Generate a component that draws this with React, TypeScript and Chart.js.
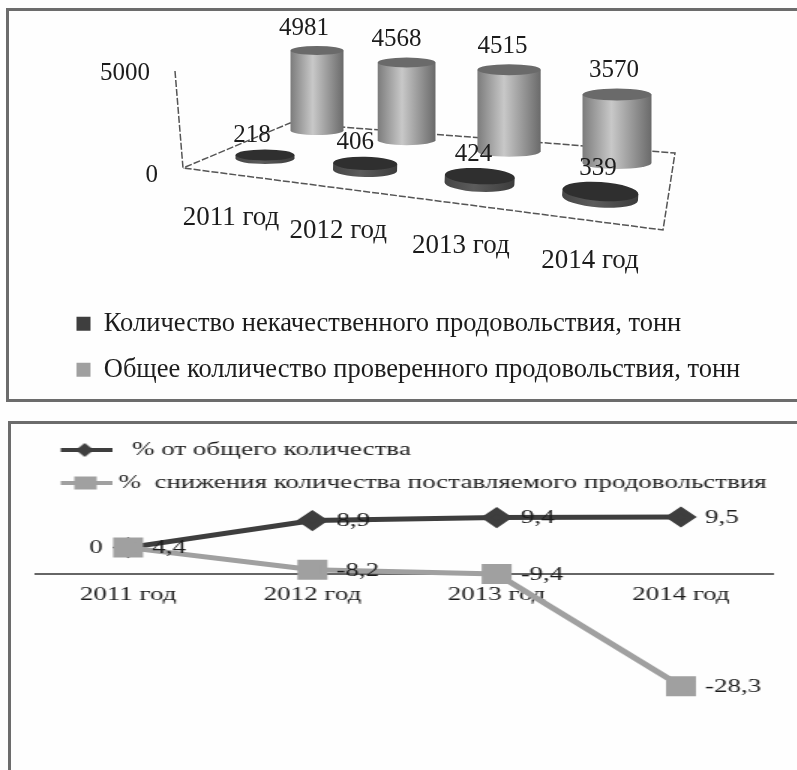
import React, { useEffect, useRef } from "react";
import { Chart, registerables } from "chart.js";

Chart.register(...registerables);

const categories = ["2011 год", "2012 год", "2013 год", "2014 год"];

// Upper chart
const poorQualityTons = [218, 406, 424, 339];
const inspectedTons = [4981, 4568, 4515, 3570];
const poorQualityName = "Количество некачественного продовольствия, тонн";
const inspectedName = "Общее колличество проверенного продовольствия, тонн";

// Lower chart
const shareOfTotal = [4.4, 8.9, 9.4, 9.5];
const shareLabels = ["4,4", "8,9", "9,4", "9,5"];
// Heights as the points stand in the picture, which do not follow the printed numbers.
const declineLevels = [4.4, 0.7, 0, -18.7];
const declineLabels = ["0", "-8,2", "-9,4", "-28,3"];
const shareName = "  % от общего количества";
const declineName = "%  снижения количества поставляемого продовольствия";

const SERIF = "'Liberation Serif', serif";
const INK = "#1c1c1c";
const DARK = "#3e3e3e";
const GREY = "#a0a0a0";

type Row = { x: number[]; y: number[]; w: number[]; ry: number[]; tilt: number[] };
const backRow: Row = { x: [317, 617], y: [130.5, 163], w: [53, 69], ry: [4.5, 6], tilt: [0, 0] };
const frontRow: Row = { x: [265, 600], y: [158.5, 198], w: [59, 76], ry: [5.5, 9.5], tilt: [0, 0.07] };
const tickRow = { x: [231, 590], y: [218, 261] };

const lerp = (r: number[], t: number) => r[0] + (r[1] - r[0]) * t;
const warp = (t: number) => Math.pow(t, 1.1);

function cylinder(ctx: any, cx: number, by: number, w: number, ry: number, h: number, tilt: number, tones: string[], cap: string) {
  const rx = w / 2;
  ctx.save();
  ctx.translate(cx, by);
  ctx.rotate(tilt);
  const g = ctx.createLinearGradient(-rx, 0, rx, 0);
  g.addColorStop(0, tones[0]);
  g.addColorStop(0.42, tones[1]);
  g.addColorStop(1, tones[2]);
  ctx.fillStyle = g;
  ctx.beginPath();
  ctx.moveTo(-rx, -h);
  ctx.lineTo(-rx, 0);
  ctx.ellipse(0, 0, rx, ry, 0, Math.PI, 0, true);
  ctx.lineTo(rx, -h);
  ctx.closePath();
  ctx.fill();
  ctx.fillStyle = cap;
  ctx.beginPath();
  ctx.ellipse(0, -h, rx, ry, 0, 0, Math.PI * 2);
  ctx.fill();
  ctx.restore();
}

const scenePlugin = {
  id: "scene",
  beforeDatasetDraw() {
    return false;
  },
  beforeDatasetsDraw(chart: any) {
    const { ctx } = chart;
    ctx.save();
    ctx.strokeStyle = "#555555";
    ctx.lineWidth = 1.5;
    ctx.setLineDash([7, 2]);
    ctx.beginPath();
    ctx.moveTo(175, 71);
    ctx.lineTo(183, 168);
    ctx.lineTo(663, 230);
    ctx.lineTo(675, 153);
    ctx.lineTo(290, 123);
    ctx.lineTo(183, 168);
    ctx.stroke();
    ctx.restore();
  },
  afterDatasetsDraw(chart: any) {
    const { ctx } = chart;
    const xs = chart.scales.x;
    const ys = chart.scales.y;
    const n = categories.length;
    const tOf = (i: number) => warp((xs.getPixelForValue(i) - xs.getPixelForValue(0)) / (xs.getPixelForValue(n - 1) - xs.getPixelForValue(0)));
    const rise = (v: number, t: number) => (ys.getPixelForValue(0) - ys.getPixelForValue(v)) * (0.82 + 0.16 * t);

    inspectedTons.forEach((v, i) => {
      const t = tOf(i);
      cylinder(ctx, lerp(backRow.x, t), lerp(backRow.y, t), lerp(backRow.w, t), lerp(backRow.ry, t), rise(v, t), 0, ["#7c7c7c", "#c8c8c8", "#6a6a6a"], "#6a6a6a");
    });
    poorQualityTons.forEach((v, i) => {
      const t = tOf(i);
      cylinder(ctx, lerp(frontRow.x, t), lerp(frontRow.y, t), lerp(frontRow.w, t), lerp(frontRow.ry, t), rise(v, t), lerp(frontRow.tilt, t), ["#454545", "#5c5c5c", "#3c3c3c"], "#2f2f2f");
    });

    ctx.save();
    ctx.fillStyle = INK;
    ctx.font = `25px ${SERIF}`;
    ctx.textAlign = "center";
    ctx.textBaseline = "middle";
    inspectedTons.forEach((v, i) => {
      const t = tOf(i);
      const top = lerp(backRow.y, t) - rise(v, t) - lerp(backRow.ry, t);
      ctx.fillText(String(v), lerp(backRow.x, t) - 13 + 10 * t, top - 18);
    });
    poorQualityTons.forEach((v, i) => {
      const t = tOf(i);
      const top = lerp(frontRow.y, t) - rise(v, t) - lerp(frontRow.ry, t);
      ctx.fillText(String(v), lerp(frontRow.x, t) - 13 + 11 * t, top - 14);
    });
    ctx.textAlign = "right";
    ys.ticks.forEach((tick: any) => {
      const f = tick.value / ys.max;
      ctx.fillText(String(tick.value), 158 - 8 * f, ys.getPixelForValue(tick.value) + 2 + 4 * (1 - f));
    });
    ctx.textAlign = "center";
    ctx.font = `27px ${SERIF}`;
    categories.forEach((c, i) => {
      const t = tOf(i);
      ctx.fillText(c, lerp(tickRow.x, t), lerp(tickRow.y, t));
    });
    ctx.restore();
  },
};

function lineSample(color: string, pointStyle: string) {
  const c = document.createElement("canvas");
  c.width = 40;
  c.height = 16;
  const g = c.getContext("2d") as CanvasRenderingContext2D;
  g.fillStyle = color;
  g.fillRect(6, 6, 34, 4);
  if (pointStyle === "rect") {
    g.fillRect(15, 1.5, 15, 13);
  } else {
    g.beginPath();
    g.moveTo(22, 1);
    g.lineTo(28, 8);
    g.lineTo(22, 15);
    g.lineTo(16, 8);
    g.closePath();
    g.fill();
  }
  return c;
}

const valueLabelPlugin = {
  id: "valueLabels",
  afterDatasetsDraw(chart: any) {
    const { ctx } = chart;
    ctx.save();
    ctx.fillStyle = INK;
    ctx.font = `18px ${SERIF}`;
    ctx.textBaseline = "middle";
    [shareLabels, declineLabels].forEach((labels, d) => {
      chart.getDatasetMeta(d).data.forEach((pt: any, i: number) => {
        const before = d === 1 && i === 0;
        ctx.textAlign = before ? "right" : "left";
        ctx.fillText(labels[i], pt.x + (before ? -17 : 16), pt.y + 1);
      });
    });
    ctx.restore();
  },
};

export default function App() {
  const topRef = useRef<HTMLCanvasElement>(null);
  const lowRef = useRef<HTMLCanvasElement>(null);

  useEffect(() => {
    document.body.style.margin = "0";
    document.body.style.overflow = "hidden";
    const top = new Chart(topRef.current as HTMLCanvasElement, {
      type: "bar",
      data: {
        labels: categories,
        datasets: [
          { label: poorQualityName, data: poorQualityTons, backgroundColor: DARK },
          { label: inspectedName, data: inspectedTons, backgroundColor: GREY },
        ],
      },
      options: {
        animation: false,
        responsive: false,
        layout: { padding: { left: 57, top: 71, right: 0, bottom: 0 } },
        scales: {
          x: {
            grid: { display: false },
            border: { display: false },
            ticks: { display: false },
            afterFit: (s: any) => {
              s.height = 122;
            },
          },
          y: {
            min: 0,
            max: 5000,
            grid: { display: false },
            border: { display: false },
            ticks: { display: false, stepSize: 5000 },
          },
        },
        plugins: {
          tooltip: { enabled: false },
          legend: {
            position: "bottom",
            align: "start",
            labels: { boxWidth: 14, boxHeight: 14, padding: 19.5, color: INK, font: { family: SERIF, size: 26.5 } },
          },
        },
      },
      plugins: [scenePlugin],
    } as any);

    const shareSample = lineSample(DARK, "rectRot");
    const declineSample = lineSample(GREY, "rect");
    const low = new Chart(lowRef.current as HTMLCanvasElement, {
      type: "line",
      data: {
        labels: categories,
        datasets: [
          { label: shareName, data: shareOfTotal, borderColor: DARK, backgroundColor: DARK, borderWidth: 5, pointStyle: "rectRot", pointRadius: 7, order: 1 },
          { label: declineName, data: declineLevels, borderColor: GREY, backgroundColor: GREY, borderWidth: 5, pointStyle: "rect", pointRadius: 10.6, order: 0 },
        ],
      },
      options: {
        animation: false,
        responsive: false,
        layout: { padding: { left: 24, right: 15, top: 2, bottom: 40 } },
        scales: {
          x: {
            offset: true,
            position: { y: 0 },
            grid: { display: false },
            border: { display: true, color: "#666666", width: 2 },
            ticks: { color: INK, font: { family: SERIF, size: 18 }, padding: 2, maxRotation: 0, autoSkip: false },
          },
          y: { display: false, min: -26, max: 12 },
        },
        plugins: {
          tooltip: { enabled: false },
          legend: {
            position: "top",
            align: "start",
            labels: {
              usePointStyle: true,
              pointStyleWidth: 31,
              padding: 15,
              color: INK,
              font: { family: SERIF, size: 18 },
              generateLabels: () => [
                { text: shareName, pointStyle: shareSample, fillStyle: DARK, strokeStyle: DARK, lineWidth: 0, hidden: false, datasetIndex: 0, fontColor: INK },
                { text: declineName, pointStyle: declineSample, fillStyle: GREY, strokeStyle: GREY, lineWidth: 0, hidden: false, datasetIndex: 1, fontColor: INK },
              ],
            },
          },
        },
      },
      plugins: [valueLabelPlugin],
    } as any);

    return () => {
      top.destroy();
      low.destroy();
    };
  }, []);

  const frame = "#6c6c6c";
  return (
    <div style={{ position: "absolute", left: 0, top: 0, width: 797, height: 770, overflow: "hidden", background: "#fefefe" }}>
      <div style={{ position: "absolute", left: 6, top: 8, width: 800, height: 388, border: `3.5px solid ${frame}`, boxSizing: "content-box" }} />
      <div style={{ position: "absolute", left: 8, top: 421, width: 800, height: 400, border: `3px solid ${frame}` }} />
      <canvas ref={topRef} width={797} height={393} style={{ position: "absolute", left: 0, top: 0, filter: "blur(0.35px)" }} />
      <canvas ref={lowRef} width={531} height={346} style={{ position: "absolute", left: 0, top: 424, transform: "scaleX(1.5)", transformOrigin: "0 0", filter: "blur(0.3px)" }} />
    </div>
  );
}
